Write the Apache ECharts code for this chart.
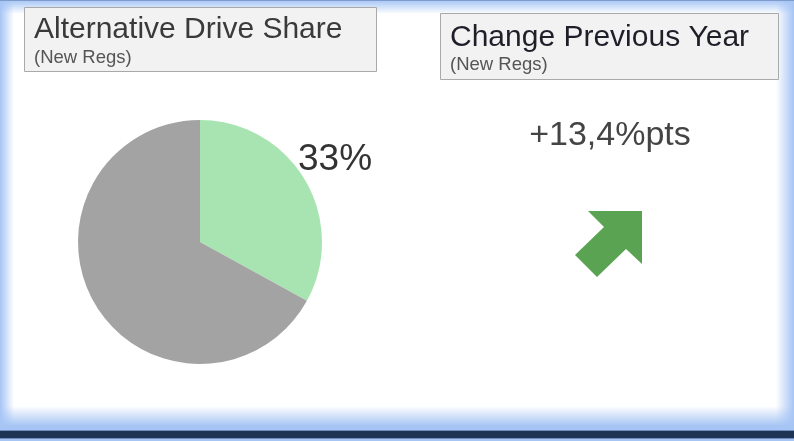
<!DOCTYPE html>
<html>
<head>
<meta charset="utf-8">
<script src="https://cdn.jsdelivr.net/npm/echarts@6/dist/echarts.min.js"></script>
<style>
html,body{margin:0;padding:0;background:#fff;}
#chart{width:794px;height:441px;}
</style>
</head>
<body>
<div id="chart"></div>
<script>
// ---- data ----
const shareCategories = ['Alternative Drive', 'Other'];
const shareValues = [33, 67];
const shareColors = ['#a8e4b2', '#a3a3a3'];
const changeValue = 13.4; // percentage points vs previous year
const panelTitles = ['Alternative Drive Share', 'Change Previous Year'];
const panelSubtitle = '(New Regs)';

const FONT = '"Liberation Sans", Arial, sans-serif';
const BLUE = '#a6c5f5';
const BLUE0 = 'rgba(166,197,245,0)';

const changeText = (changeValue >= 0 ? '+' : '') + changeValue.toFixed(1).replace('.', ',') + '%pts';

const chart = echarts.init(document.getElementById('chart'), null, {renderer: 'canvas'});

function grad(x, y, x2, y2, c0, c1) {
  return new echarts.graphic.LinearGradient(x, y, x2, y2, [{offset: 0, color: c0}, {offset: 1, color: c1}]);
}

const option = {
  backgroundColor: '#ffffff',
  animation: false,
  title: [
    {
      text: panelTitles[0],
      subtext: panelSubtitle,
      left: 24, top: 7,
      padding: [8, 34, 4, 10],
      itemGap: 4,
      backgroundColor: '#f2f2f2',
      borderColor: '#a9a9a9',
      borderWidth: 1,
      textStyle: {fontFamily: FONT, fontSize: 30, fontWeight: 'normal', color: '#3a3a3a', lineHeight: 30},
      subtextStyle: {fontFamily: FONT, fontSize: 18.5, color: '#555555', lineHeight: 18}
    },
    {
      text: panelTitles[1],
      subtext: panelSubtitle,
      left: 440, top: 13,
      padding: [10, 30, 5, 10],
      itemGap: 3,
      backgroundColor: '#f2f2f2',
      borderColor: '#a9a9a9',
      borderWidth: 1,
      textStyle: {fontFamily: FONT, fontSize: 30, fontWeight: 'normal', color: '#1f1f2a', lineHeight: 30},
      subtextStyle: {fontFamily: FONT, fontSize: 18.5, color: '#555555', lineHeight: 18}
    }
  ],
  graphic: [
    // frame: blue glow edges
    {type: 'rect', z: -10, silent: true, shape: {x: 0, y: 0, width: 14, height: 441}, style: {fill: grad(0, 0, 1, 0, BLUE, BLUE0)}},
    {type: 'rect', z: -10, silent: true, shape: {x: 0, y: 0, width: 794, height: 14}, style: {fill: grad(0, 0, 0, 1, BLUE, BLUE0)}},
    {type: 'rect', z: -10, silent: true, shape: {x: 776, y: 0, width: 18, height: 441}, style: {fill: grad(1, 0, 0, 0, BLUE, BLUE0)}},
    {type: 'rect', z: -10, silent: true, shape: {x: 0, y: 406, width: 794, height: 20}, style: {fill: grad(0, 1, 0, 0, BLUE, BLUE0)}},
    {type: 'rect', z: -10, silent: true, shape: {x: 0, y: 426, width: 794, height: 15}, style: {fill: BLUE}},
    {type: 'rect', z: -9, silent: true, shape: {x: 0, y: 0, width: 794, height: 1}, style: {fill: '#7f9bcb'}},
    {type: 'rect', z: -9, silent: true, shape: {x: -1, y: 430.5, width: 796, height: 8}, style: {fill: '#1e3455', stroke: '#6f8dc0', lineWidth: 1}},
    // change value
    {type: 'text', z: 10, silent: true, style: {text: changeText, x: 610, y: 136, textAlign: 'center', textVerticalAlign: 'middle', font: '34px ' + FONT, fill: '#444444'}},
    // trend arrow (up-right for positive change)
    {type: 'polygon', z: 10, silent: true,
     shape: {points: [[642, 211], [642, 264], [626, 249], [597, 277], [575, 255], [604, 227], [588, 211]]},
     style: {fill: '#5aa352'}}
  ],
  series: [
    {
      type: 'pie',
      silent: true,
      center: [200, 242],
      radius: 122,
      startAngle: 90,
      clockwise: true,
      percentPrecision: 0,
      emphasis: {disabled: true},
      labelLine: {show: false, length: 0, length2: 0},
      label: {show: false},
      itemStyle: {borderWidth: 0},
      data: shareValues.map((v, i) => ({
        name: shareCategories[i],
        value: v,
        itemStyle: {color: shareColors[i]},
        label: {
          show: i === 0,
          position: 'outside',
          formatter: '{d}%',
          fontFamily: FONT,
          fontSize: 37,
          color: '#333333'
        }
      })),
      labelLayout: {dx: -12, dy: -20}
    }
  ]
};
chart.setOption(option);
</script>
</body>
</html>
